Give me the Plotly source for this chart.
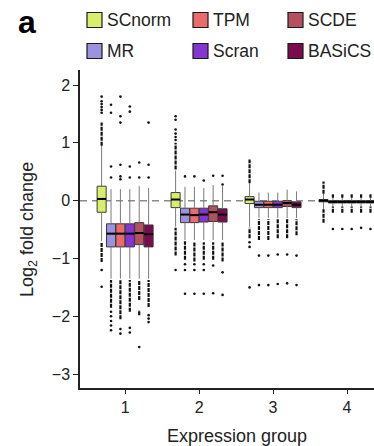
import plotly.graph_objects as go

# ---- data ---------------------------------------------------------------
groups = [1, 2, 3, 4]
methods = ["SCnorm", "MR", "TPM", "Scran", "SCDE", "BASiCS"]
colors = ["#d9ef6c", "#9b93e0", "#ea6b6b", "#8436d0", "#b5515f", "#7b0b4f"]

# box statistics per method, one value per expression group
q1 = {
    "SCnorm": [-0.20, -0.12, -0.05, -0.02],
    "MR":     [-0.80, -0.38, -0.12, -0.04],
    "TPM":    [-0.80, -0.38, -0.12, -0.04],
    "Scran":  [-0.80, -0.37, -0.12, -0.04],
    "SCDE":   [-0.76, -0.36, -0.10, -0.04],
    "BASiCS": [-0.80, -0.37, -0.12, -0.04],
}
median = {
    "SCnorm": [0.03, 0.02, 0.02, 0.00],
    "MR":     [-0.57, -0.24, -0.07, -0.02],
    "TPM":    [-0.57, -0.25, -0.07, -0.02],
    "Scran":  [-0.57, -0.24, -0.07, -0.02],
    "SCDE":   [-0.56, -0.20, -0.04, -0.02],
    "BASiCS": [-0.58, -0.24, -0.07, -0.02],
}
q3 = {
    "SCnorm": [0.25, 0.14, 0.07, 0.02],
    "MR":     [-0.40, -0.13, -0.01, 0.00],
    "TPM":    [-0.40, -0.13, -0.01, 0.00],
    "Scran":  [-0.40, -0.13, -0.01, 0.00],
    "SCDE":   [-0.38, -0.09, 0.00, 0.00],
    "BASiCS": [-0.42, -0.14, -0.02, 0.00],
}
lowerfence = {
    "SCnorm": [-0.70, -0.45, -0.45, -0.15],
    "MR":     [-1.35, -0.68, -0.30, -0.10],
    "TPM":    [-1.35, -0.68, -0.30, -0.10],
    "Scran":  [-1.35, -0.68, -0.30, -0.10],
    "SCDE":   [-1.35, -0.68, -0.30, -0.10],
    "BASiCS": [-1.35, -0.68, -0.30, -0.10],
}
upperfence = {
    "SCnorm": [0.95, 0.52, 0.30, 0.12],
    "MR":     [0.20, 0.24, 0.14, 0.05],
    "TPM":    [0.20, 0.24, 0.14, 0.05],
    "Scran":  [0.20, 0.22, 0.14, 0.05],
    "SCDE":   [0.25, 0.27, 0.19, 0.05],
    "BASiCS": [0.22, 0.25, 0.16, 0.05],
}

# runs of densely packed outliers (low, high), per method and group
outlier_runs = {
    "SCnorm": [[(0.95, 1.35), (-1.06, -0.72)], [(0.54, 1.00), (-0.95, -0.47)],
               [(0.30, 0.71), (-0.65, -0.47)], [(0.12, 0.33), (-0.38, -0.15)]],
    "MR":     [[(-1.85, -1.37)], [(-1.02, -0.70)], [(-0.68, -0.32)], [(0.05, 0.11), (-0.21, -0.10)]],
    "TPM":    [[(-2.05, -1.37)], [(-1.05, -0.72)], [(-0.68, -0.32)], [(0.05, 0.11), (-0.21, -0.10)]],
    "Scran":  [[(-1.92, -1.37)], [(-1.02, -0.72)], [(-0.65, -0.32)], [(0.05, 0.11), (-0.21, -0.10)]],
    "SCDE":   [[(-1.72, -1.37), (-1.98, -1.89)], [(-1.02, -0.72)], [(-0.65, -0.32)], [(0.05, 0.11), (-0.21, -0.10)]],
    "BASiCS": [[(-1.84, -1.37)], [(-1.05, -0.72)], [(-0.60, -0.32)], [(0.05, 0.11), (-0.21, -0.10)]],
}
# isolated outliers, per method and group
outlier_points = {
    "SCnorm": [[1.52, 1.57, 1.62, 1.67, 1.72, 1.80, -1.20, -1.49],
               [1.05, 1.10, 1.16, 1.23, 1.40, 1.46, -1.20],
               [-0.72, -0.80, -1.50],
               []],
    "MR":     [[1.52, 1.66, 0.59, 0.40, -1.92, -2.00, -2.08, -2.16, -2.24],
               [0.42, -1.10, -1.20, -1.61],
               [-0.95, -1.46],
               [-0.49]],
    "TPM":    [[1.80, 1.46, 1.35, 0.62, 0.42, 0.37, -2.22, -2.30],
               [0.42, -1.10, -1.20, -1.61],
               [-0.95, -1.46],
               [-0.49]],
    "Scran":  [[1.63, 1.54, 0.59, 0.40, -2.20, -2.28],
               [0.35, -1.10, -1.20, -1.61],
               [-0.93, -1.44],
               [-0.49]],
    "SCDE":   [[0.66, 0.40, -2.53],
               [0.43, -1.12, -1.60],
               [-0.93, -1.43],
               [-0.47]],
    "BASiCS": [[1.35, 0.62, 0.40, -1.98, -2.04, -2.10],
               [0.43, 0.28, -1.24, -1.63],
               [-0.95, -1.46],
               [-0.49]],
}

# ---- geometry -----------------------------------------------------------
SPACING = 0.127      # distance between neighbouring boxes inside a group
BOX_W = 0.122        # box width in x units
FONT = "Liberation Sans, Arial, Helvetica, sans-serif"
INK = "#222222"

W, H = 374, 446
ML, MR_, MT, MB = 80, 0, 70, 58
PW, PH = W - ML - MR_, H - MT - MB


def px(x):
    return (x - ML) / PW


def py(y):
    return (H - MB - y) / PH


def pos(g, i):
    return g + (i - (len(methods) - 1) / 2) * SPACING


fig = go.Figure()

whisk_x, whisk_y = [], []
run_x, run_y = [], []
pt_x, pt_y = [], []
med_x, med_y = [], []

for i, m in enumerate(methods):
    xs = [pos(g, i) for g in groups]
    fig.add_trace(go.Box(
        x=xs, q1=q1[m], median=median[m], q3=q3[m],
        lowerfence=q1[m], upperfence=q3[m],
        width=BOX_W, whiskerwidth=0,
        fillcolor=colors[i], line=dict(color="#3a3a3a", width=1),
        boxpoints=False, name=m, showlegend=False, hoverinfo="skip",
    ))
    for k, x in enumerate(xs):
        whisk_x += [x, x, None, x, x, None]
        whisk_y += [lowerfence[m][k], q1[m][k], None, q3[m][k], upperfence[m][k], None]
        med_x += [x - BOX_W / 2, x + BOX_W / 2, None]
        med_y += [median[m][k], median[m][k], None]
        for lo, hi in outlier_runs[m][k]:
            run_x += [x, x, None]
            run_y += [lo, hi, None]
        for v in outlier_points[m][k]:
            pt_x.append(x)
            pt_y.append(v)

fig.add_trace(go.Scatter(x=whisk_x, y=whisk_y, mode="lines",
                         line=dict(color="#7a7a7a", width=1),
                         showlegend=False, hoverinfo="skip"))
fig.add_trace(go.Scatter(x=run_x, y=run_y, mode="lines",
                         line=dict(color="#111111", width=2.2, dash="4px,1px"),
                         showlegend=False, hoverinfo="skip"))
fig.add_trace(go.Scatter(x=pt_x, y=pt_y, mode="markers",
                         marker=dict(color="#111111", size=2.6),
                         showlegend=False, hoverinfo="skip"))
fig.add_trace(go.Scatter(x=med_x, y=med_y, mode="lines",
                         line=dict(color="#000000", width=2),
                         showlegend=False, hoverinfo="skip"))

# dashed reference line at zero
shapes = [dict(type="line", xref="paper", yref="y", x0=0, x1=1, y0=0, y1=0,
               line=dict(color="#8a8a8a", width=1.5, dash="7px,5px"), layer="below")]
annotations = []

# legend: two rows of three colour swatches
legend_rows = [["SCnorm", "TPM", "SCDE"], ["MR", "Scran", "BASiCS"]]
col_left = [87, 193, 288]
row_mid = [20, 51]
SW = 15
for r, row in enumerate(legend_rows):
    for c, m in enumerate(row):
        x0 = col_left[c]
        y0 = row_mid[r] - SW / 2
        shapes.append(dict(type="rect", xref="paper", yref="paper",
                           x0=px(x0), x1=px(x0 + SW), y0=py(y0 + SW), y1=py(y0),
                           fillcolor=colors[methods.index(m)],
                           line=dict(color="#1a1a1a", width=1.2)))
        annotations.append(dict(text=m, xref="paper", yref="paper",
                                x=px(x0 + SW + 3), y=py(row_mid[r]),
                                xanchor="left", yanchor="middle", showarrow=False,
                                font=dict(family=FONT, size=17.5, color=INK)))

# panel letter and axis titles
annotations.append(dict(text="a", xref="paper", yref="paper",
                        x=px(27), y=py(22), xanchor="center", yanchor="middle",
                        showarrow=False,
                        font=dict(family=FONT, size=32, color="#000", weight="bold")))
annotations.append(dict(text="Log<sub>2</sub> fold change", xref="paper", yref="paper",
                        x=px(28), y=py(230), xanchor="center", yanchor="middle",
                        textangle=-90, showarrow=False,
                        font=dict(family=FONT, size=18, color=INK)))
annotations.append(dict(text="Expression group", xref="paper", yref="paper",
                        x=px(237), y=py(436), xanchor="center", yanchor="middle",
                        showarrow=False, font=dict(family=FONT, size=18, color=INK)))

fig.update_layout(
    width=W, height=H,
    margin=dict(l=ML, r=MR_, t=MT, b=MB),
    paper_bgcolor="white", plot_bgcolor="white",
    boxmode="overlay",
    showlegend=False,
    shapes=shapes, annotations=annotations,
    font=dict(family=FONT, color=INK),
    xaxis=dict(range=[0.39, 4.365], tickvals=groups, ticktext=[str(g) for g in groups],
               ticks="outside", ticklen=4, tickwidth=1.2, tickcolor=INK,
               showline=True, linecolor=INK, linewidth=1.5,
               showgrid=False, zeroline=False,
               tickfont=dict(family=FONT, size=16, color=INK)),
    yaxis=dict(range=[-3.24, 2.26], tickvals=[-3, -2, -1, 0, 1, 2],
               ticks="outside", ticklen=5, tickwidth=1.2, tickcolor=INK,
               showline=True, linecolor=INK, linewidth=1.5,
               showgrid=False, zeroline=False,
               tickfont=dict(family=FONT, size=16, color=INK)),
)

fig.write_html("out.html")
